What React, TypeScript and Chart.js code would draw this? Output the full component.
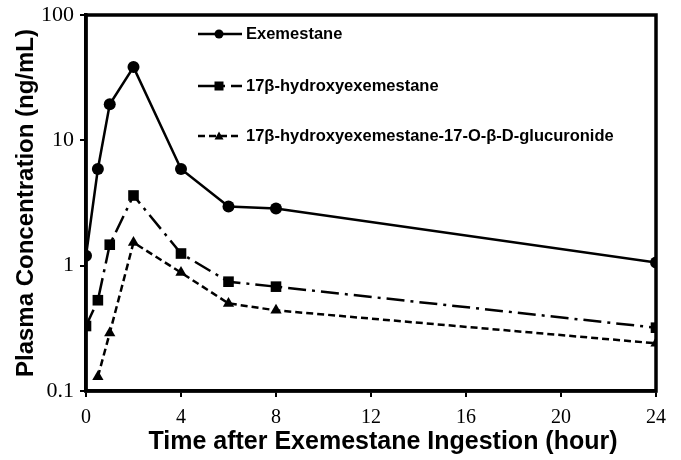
import React, { useEffect, useRef } from "react";
import { Chart, registerables } from "chart.js";

Chart.register(...registerables);

const timeHours = [0, 0.5, 1, 2, 4, 6, 8, 24];
const exemestane = [1.2, 5.9, 19.4, 38.4, 5.9, 2.97, 2.86, 1.06];
const hydroxy = [0.33, 0.53, 1.47, 3.63, 1.25, 0.745, 0.68, 0.32];
const glucTimes = [0.5, 1, 2, 4, 6, 8, 24];
const glucuronide = [0.13, 0.29, 1.53, 0.88, 0.5, 0.44, 0.24];
const seriesNames = [
  "Exemestane",
  "17β-hydroxyexemestane",
  "17β-hydroxyexemestane-17-O-β-D-glucuronide",
];
const yTicks = [0.1, 1, 10, 100];
const xTicks = [0, 4, 8, 12, 16, 20, 24];
const xTitle = "Time after Exemestane Ingestion (hour)";
const yTitle = "Plasma Concentration (ng/mL)";

const SERIF = "'Liberation Serif', 'Times New Roman', serif";
const SANS = "'Liberation Sans', Arial, sans-serif";

const framePlugin = {
  id: "frame",
  afterDatasetsDraw(chart: any) {
    const { ctx, chartArea } = chart;
    ctx.save();
    ctx.strokeStyle = "#000";
    ctx.lineWidth = 3.5;
    ctx.strokeRect(chartArea.left, chartArea.top, chartArea.right - chartArea.left, chartArea.bottom - chartArea.top);
    ctx.restore();
  },
};

const xTitlePlugin = {
  id: "xTitle",
  afterDraw(chart: any) {
    const { ctx, chartArea } = chart;
    ctx.save();
    ctx.fillStyle = "#000";
    ctx.font = `bold 25px ${SANS}`;
    ctx.textAlign = "center";
    ctx.textBaseline = "middle";
    ctx.fillText(xTitle, (chartArea.left + chartArea.right) / 2 + 12, 442);
    ctx.restore();
  },
};

const legendPlugin = {
  id: "customLegend",
  afterDraw(chart: any) {
    const { ctx } = chart;
    const rows = [34, 86, 136];
    const x0 = 198;
    const x1 = 242;
    ctx.save();
    chart.data.datasets.forEach((ds: any, i: number) => {
      const y = rows[i];
      ctx.strokeStyle = "#000";
      ctx.lineWidth = 2.5;
      ctx.setLineDash(ds.borderDash || []);
      ctx.beginPath();
      ctx.moveTo(x0, y);
      ctx.lineTo(x1, y);
      ctx.stroke();
      ctx.setLineDash([]);
      ctx.fillStyle = "#000";
      const cx = 219;
      const r = 4.5;
      if (ds.pointStyle === "circle") {
        ctx.beginPath();
        ctx.arc(cx, y, r, 0, Math.PI * 2);
        ctx.fill();
      } else if (ds.pointStyle === "rect") {
        ctx.fillRect(cx - r, y - r, 2 * r, 2 * r);
      } else {
        ctx.beginPath();
        ctx.moveTo(cx, y - r);
        ctx.lineTo(cx + r, y + r * 0.8);
        ctx.lineTo(cx - r, y + r * 0.8);
        ctx.closePath();
        ctx.fill();
      }
      ctx.font = `bold 16.5px ${SANS}`;
      ctx.textBaseline = "middle";
      ctx.textAlign = "left";
      ctx.fillText(seriesNames[i], 246, y);
    });
    ctx.restore();
  },
};

export default function App() {
  const ref = useRef<HTMLCanvasElement>(null);
  useEffect(() => {
    if (!ref.current) return;
    const chart = new Chart(ref.current, {
      type: "line",
      data: {
        datasets: [
          {
            label: seriesNames[0],
            data: timeHours.map((t, i) => ({ x: t, y: exemestane[i] })),
            borderColor: "#000",
            backgroundColor: "#000",
            borderWidth: 2.5,
            pointStyle: "circle",
            pointRadius: 6,
            pointBorderWidth: 0,
          },
          {
            label: seriesNames[1],
            data: timeHours.map((t, i) => ({ x: t, y: hydroxy[i] })),
            borderColor: "#000",
            backgroundColor: "#000",
            borderWidth: 2.5,
            borderDash: [18, 6, 3, 6],
            pointStyle: "rect",
            pointRadius: 7.5,
            pointBorderWidth: 0,
          },
          {
            label: seriesNames[2],
            data: glucTimes.map((t, i) => ({ x: t, y: glucuronide[i] })),
            borderColor: "#000",
            backgroundColor: "#000",
            borderWidth: 2.5,
            borderDash: [7, 4],
            pointStyle: "triangle",
            pointRadius: 6.5,
            pointBorderWidth: 0,
          },
        ],
      },
      options: {
        animation: false,
        responsive: false,
        maintainAspectRatio: false,
        layout: { padding: { top: 15, right: 25, left: 0, bottom: 0 } },
        plugins: {
          legend: { display: false },
          tooltip: { enabled: false },
        },
        scales: {
          x: {
            type: "linear",
            min: 0,
            max: 24,
            afterBuildTicks: (s: any) => {
              s.ticks = xTicks.map((v) => ({ value: v }));
            },
            afterFit: (s: any) => {
              s.height = 69;
              s.paddingLeft = 0;
              s.paddingRight = 0;
            },
            ticks: {
              color: "#000",
              font: { family: SERIF, size: 20 },
              padding: 9,
              maxRotation: 0,
              autoSkip: false,
            },
            grid: {
              display: true,
              drawOnChartArea: false,
              drawTicks: true,
              tickLength: 6,
              color: "#000",
              lineWidth: 2,
            },
            border: { display: true, color: "#000", width: 3.5 },
            title: { display: false },
          },
          y: {
            type: "logarithmic",
            min: 0.1,
            max: 100,
            afterBuildTicks: (s: any) => {
              s.ticks = yTicks.map((v) => ({ value: v }));
            },
            afterFit: (s: any) => {
              s.width = 86;
              s.paddingTop = 0;
              s.paddingBottom = 0;
            },
            ticks: {
              color: "#000",
              font: { family: SERIF, size: 22 },
              padding: 6,
              autoSkip: false,
              callback: (v: any) => String(v),
            },
            grid: {
              display: true,
              drawOnChartArea: false,
              drawTicks: true,
              tickLength: 6,
              color: "#000",
              lineWidth: 2,
            },
            border: { display: true, color: "#000", width: 3.5 },
            title: {
              display: true,
              text: yTitle,
              color: "#000",
              font: { family: SANS, size: 24, weight: "bold" },
              padding: { top: 12, bottom: 0 },
            },
          },
        },
      },
      plugins: [framePlugin, legendPlugin, xTitlePlugin],
    } as any);
    return () => chart.destroy();
  }, []);
  return (
    <div style={{ position: "fixed", left: 0, top: 0, width: 681, height: 460, background: "#fff" }}>
      <canvas ref={ref} width={681} height={460} style={{ width: 681, height: 460, display: "block" }} />
    </div>
  );
}
